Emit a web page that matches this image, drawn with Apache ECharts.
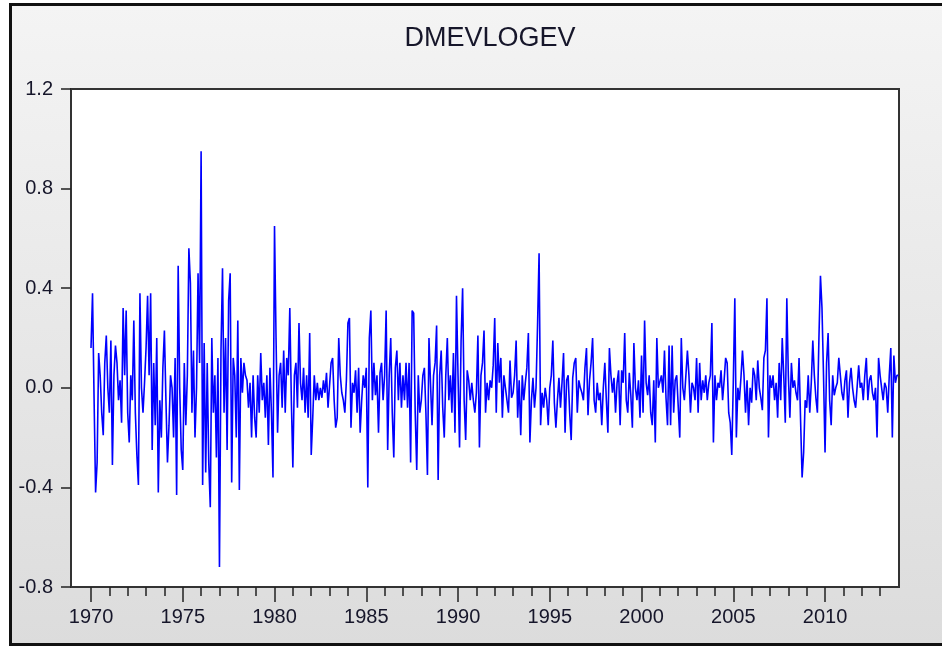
<!DOCTYPE html>
<html>
<head>
<meta charset="utf-8">
<script src="https://cdn.jsdelivr.net/npm/echarts@6/dist/echarts.min.js"></script>
<style>
html,body{margin:0;padding:0;background:#fff;}
#chart{width:942px;height:647px;}
</style>
</head>
<body>
<div id="chart"></div>
<script>
const chartTitle = 'DMEVLOGEV';
const startYear = 1970;
const yTicks = [-0.8, -0.4, 0.0, 0.4, 0.8, 1.2];
const majorYears = [1970, 1975, 1980, 1985, 1990, 1995, 2000, 2005, 2010];
const minorYears = [1970,1971,1972,1973,1974,1975,1976,1977,1978,1979,1980,1981,1982,1983,1984,1985,1986,1987,1988,1989,1990,1991,1992,1993,1994,1995,1996,1997,1998,1999,2000,2001,2002,2003,2004,2005,2006,2007,2008,2009,2010,2011,2012,2013];

// monthly values, Jan 1970 onward
const values1970s = [
 0.16, 0.38,-0.04,-0.42,-0.30, 0.14, 0.05,-0.10,-0.19, 0.10, 0.21, 0.00,
-0.10, 0.19,-0.31, 0.05, 0.17, 0.10,-0.05, 0.03,-0.14, 0.32, 0.05, 0.31,
-0.10,-0.22, 0.05,-0.05, 0.27,-0.10,-0.27,-0.39, 0.38, 0.00,-0.10, 0.02,
 0.16, 0.37, 0.05, 0.38,-0.25, 0.10,-0.15, 0.20,-0.42,-0.05,-0.20, 0.08,
 0.23,-0.05,-0.30,-0.15, 0.05, 0.00,-0.20, 0.12,-0.43, 0.49, 0.00,-0.25,
-0.33, 0.10,-0.15, 0.05, 0.56, 0.42,-0.10, 0.15,-0.20, 0.00, 0.46, 0.10,
 0.95,-0.39, 0.18,-0.34, 0.10,-0.30,-0.48, 0.20,-0.10, 0.05,-0.28, 0.12,
-0.72, 0.15, 0.48,-0.10, 0.20,-0.25, 0.35, 0.46,-0.38, 0.12, 0.05,-0.20,
 0.27,-0.41, 0.12,-0.02, 0.10, 0.05, 0.03,-0.08, 0.02,-0.20, 0.05,-0.12,
-0.20, 0.05,-0.10, 0.14,-0.05, 0.02,-0.12, 0.05,-0.23, 0.08,-0.10,-0.36
];
const values1980s = [
 0.65, 0.20,-0.18, 0.05, 0.10,-0.08, 0.15,-0.10, 0.12, 0.05, 0.32,-0.05,
-0.32, 0.05, 0.10,-0.08, 0.26, 0.02,-0.05, 0.08,-0.10, 0.05,-0.12, 0.22,
-0.27,-0.12, 0.05,-0.05, 0.02,-0.05, 0.00,-0.04, 0.03,-0.02, 0.06,-0.08,
-0.08, 0.10, 0.12,-0.05,-0.16,-0.12, 0.20, 0.05,-0.02,-0.05,-0.10, 0.03,
 0.26, 0.28,-0.16, 0.02,-0.02, 0.07,-0.10, 0.08,-0.18,-0.05, 0.05, 0.00,
 0.08,-0.40, 0.20, 0.31,-0.05, 0.10,-0.03, 0.05,-0.18, 0.06, 0.10,-0.05,
 0.05, 0.31,-0.25, 0.05, 0.20,-0.10,-0.28, 0.08, 0.15,-0.05, 0.10,-0.08,
 0.05,-0.05, 0.10,-0.08, 0.10,-0.30, 0.31, 0.30,-0.10,-0.33, 0.05,-0.10,
-0.05, 0.05, 0.08,-0.10,-0.35, 0.20, 0.02,-0.15, 0.05, 0.10, 0.25,-0.37,
 0.05, 0.15,-0.08,-0.20, 0.05, 0.20,-0.05, 0.05,-0.10, 0.14,-0.18, 0.37
];
const values1990s = [
 0.05,-0.24, 0.19, 0.40,-0.05,-0.21, 0.07, 0.03,-0.05, 0.02,-0.05,-0.10,
-0.02, 0.21,-0.24, 0.05, 0.10, 0.23,-0.10, 0.02,-0.05, 0.03, 0.00, 0.09,
 0.28,-0.10, 0.18, 0.02, 0.12,-0.12, 0.05, 0.00,-0.05,-0.10, 0.11,-0.04,
-0.02, 0.05, 0.19,-0.12, 0.03,-0.19, 0.05,-0.05, 0.02, 0.08, 0.22,-0.22,
-0.05, 0.04,-0.08, 0.00, 0.25, 0.54,-0.15,-0.02,-0.08, 0.00,-0.05,-0.15,
 0.00, 0.05, 0.19,-0.06,-0.16,-0.05, 0.04,-0.08, 0.02, 0.14,-0.18, 0.03,
 0.05,-0.10,-0.21, 0.04, 0.10, 0.12,-0.10, 0.03, 0.00,-0.02,-0.05, 0.08,
 0.16,-0.11, 0.03, 0.10, 0.20,-0.05,-0.10, 0.02,-0.05,-0.02,-0.15, 0.00,
 0.10,-0.05,-0.18, 0.16, 0.05,-0.02, 0.04,-0.10, 0.02, 0.07,-0.15, 0.07,
 0.02, 0.22,-0.05,-0.10, 0.06,-0.03,-0.16, 0.18, 0.00,-0.05, 0.03,-0.12
];
const values2000s = [
 0.13,-0.10, 0.27, 0.02,-0.03, 0.05,-0.10,-0.15, 0.03,-0.22, 0.20, 0.00,
 0.00, 0.05,-0.02, 0.15,-0.04,-0.15, 0.17,-0.15, 0.17,-0.10, 0.03, 0.05,
 0.05,-0.20, 0.20, 0.00,-0.05, 0.05, 0.15, 0.05,-0.10, 0.02, 0.00,-0.05,
 0.12,-0.10, 0.10,-0.05, 0.03,-0.02, 0.05,-0.05, 0.02, 0.05, 0.26,-0.22,
 0.05,-0.05, 0.02, 0.00, 0.07,-0.05, 0.03, 0.12, 0.10,-0.10,-0.14,-0.27,
 0.02, 0.36,-0.20, 0.00,-0.05, 0.04, 0.15, 0.05,-0.10, 0.03,-0.15, 0.00,
-0.06, 0.08, 0.05,-0.05, 0.11, 0.00,-0.04,-0.09, 0.12, 0.15, 0.36,-0.20,
 0.05, 0.00, 0.05,-0.05, 0.02,-0.12, 0.10,-0.05, 0.20, 0.05,-0.14, 0.36,
 0.05,-0.12, 0.10, 0.00, 0.03,-0.02,-0.05, 0.12,-0.13,-0.36,-0.26,-0.05,
-0.08, 0.05,-0.10, 0.02, 0.19, 0.05,-0.04,-0.10, 0.20, 0.45, 0.32, 0.05
];
const values2010s = [
-0.26, 0.10, 0.22,-0.05,-0.15, 0.05,-0.03, 0.00, 0.02, 0.12, 0.05,-0.02,
-0.05, 0.03, 0.07,-0.12, 0.02, 0.08, 0.00,-0.05,-0.08,-0.08, 0.09, 0.00,
 0.02,-0.05, 0.05, 0.12,-0.05, 0.03, 0.05,-0.02,-0.05, 0.00,-0.20, 0.12,
 0.05, 0.00,-0.05, 0.02, 0.00,-0.10, 0.05, 0.16,-0.20, 0.13, 0.02, 0.05,
 0.05
];

const allValues = values1970s.concat(values1980s, values1990s, values2000s, values2010s);
const seriesData = allValues.map((v, i) => [startYear + i / 12, v]);

const FONT = '"Liberation Sans", Arial, sans-serif';
const TXT = '#16162a';

const chart = echarts.init(document.getElementById('chart'), null, {renderer: 'canvas'});
chart.setOption({
  animation: false,
  backgroundColor: '#ffffff',
  graphic: {
    elements: [{
      type: 'rect',
      z: -100,
      silent: true,
      shape: {x: 10.5, y: 4.5, width: 940, height: 640},
      style: {
        fill: new echarts.graphic.LinearGradient(0, 0, 0, 1, [
          {offset: 0, color: '#f4f4f4'},
          {offset: 1, color: '#dcdcdc'}
        ]),
        stroke: '#111',
        lineWidth: 3
      }
    }]
  },
  title: {
    text: chartTitle,
    left: 485,
    top: 20,
    textAlign: 'center',
    textStyle: {fontFamily: FONT, fontSize: 27, fontWeight: 'normal', color: TXT}
  },
  grid: {
    left: 71, top: 89, right: 43, bottom: 60,
    show: true,
    backgroundColor: '#ffffff',
    borderColor: '#333',
    borderWidth: 2
  },
  xAxis: [{
    type: 'value',
    min: 1968.91,
    max: 2014.03,
    position: 'bottom',
    axisLine: {show: true, onZero: false, lineStyle: {color: '#333', width: 2}},
    axisTick: {show: true, customValues: minorYears, length: 9, inside: false, lineStyle: {color: '#222', width: 1.5}},
    axisLabel: {show: false},
    splitLine: {show: false}
  }, {
    type: 'value',
    min: 1968.91,
    max: 2014.03,
    position: 'bottom',
    axisLine: {show: false, onZero: false},
    axisTick: {show: true, customValues: majorYears, length: 15, inside: false, lineStyle: {color: '#222', width: 1.5}},
    axisLabel: {show: true, customValues: majorYears, margin: 20, fontFamily: FONT, fontSize: 20, color: TXT,
      formatter: v => String(Math.round(v))},
    splitLine: {show: false}
  }],
  yAxis: {
    type: 'value',
    min: -0.8,
    max: 1.2,
    interval: 0.4,
    axisLine: {show: true, onZero: false, lineStyle: {color: '#333', width: 2}},
    axisTick: {show: true, length: 10, inside: false, lineStyle: {color: '#222', width: 1.5}},
    axisLabel: {margin: 18, fontFamily: FONT, fontSize: 20, color: TXT,
      formatter: v => (Math.abs(v) < 1e-9 ? 0 : v).toFixed(1)},
    splitLine: {show: false}
  },
  series: [{
    type: 'line',
    xAxisIndex: 0,
    data: seriesData,
    showSymbol: false,
    symbol: 'none',
    lineStyle: {color: '#0000ff', width: 1.6},
    itemStyle: {color: '#0000ff'}
  }]
});
</script>
</body>
</html>
